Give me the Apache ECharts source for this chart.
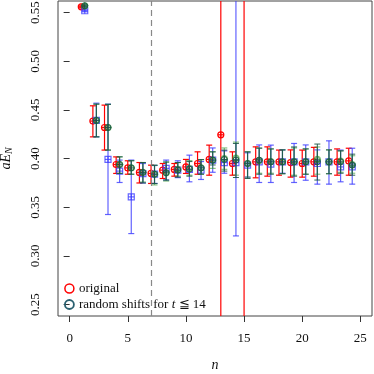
<!DOCTYPE html>
<html>
<head>
<meta charset="utf-8">
<script src="https://cdn.jsdelivr.net/npm/echarts@6/dist/echarts.min.js"></script>
<style>
html, body { margin: 0; padding: 0; background: #fff; }
#main { width: 374px; height: 374px; }
</style>
</head>
<body>
<div id="main"></div>
<script>
// n values and per-series [center, low, high]
var nVals = [1, 2, 3, 4, 5, 6, 7, 8, 9, 10, 11, 12, 13, 14, 15, 16, 17, 18, 19, 20, 21, 22, 23, 24];

var origC = [0.556, 0.4386, 0.432, 0.394, 0.3905, 0.3858, 0.3848, 0.3882, 0.3889, 0.3915, 0.395, 0.3992, 0.4245, 0.395, 0.62, 0.3967, 0.3967, 0.3967, 0.396, 0.395, 0.3967, null, 0.3967, 0.3977];
var origLo = [0.555, 0.4224, 0.4088, 0.3848, 0.384, 0.375, 0.3745, 0.3796, 0.382, 0.3848, 0.384, 0.383, 0.10, 0.383, 0.10, 0.3803, 0.382, 0.383, 0.381, 0.381, 0.382, null, 0.383, 0.383];
var origHi = [0.557, 0.4543, 0.455, 0.4018, 0.3978, 0.396, 0.3933, 0.395, 0.395, 0.3992, 0.407, 0.4139, 0.80, 0.407, 0.90, 0.4121, 0.4121, 0.4088, 0.409, 0.4088, 0.4116, null, 0.410, 0.4107];

var blueC = [0.552, 0.4393, 0.3992, 0.3872, 0.3607, 0.3847, 0.384, 0.39, 0.3882, 0.389, 0.3882, 0.3985, 0.396, 0.396, 0.3933, 0.3967, 0.3944, 0.3967, 0.3967, 0.3967, 0.395, 0.3967, 0.3915, 0.3915];
var blueLo = [0.551, 0.4224, 0.3426, 0.3755, 0.323, 0.375, 0.3745, 0.378, 0.3805, 0.3762, 0.3786, 0.386, 0.385, 0.3206, 0.381, 0.3755, 0.3755, 0.385, 0.3755, 0.3778, 0.3738, 0.3738, 0.3762, 0.3738];
var blueHi = [0.553, 0.457, 0.456, 0.3985, 0.3985, 0.395, 0.393, 0.3985, 0.3978, 0.4036, 0.397, 0.411, 0.408, 0.70, 0.406, 0.4141, 0.4139, 0.409, 0.4156, 0.4141, 0.409, 0.4183, 0.4088, 0.4107];

var greenC = [0.557, 0.4393, 0.432, 0.394, 0.3905, 0.386, 0.384, 0.3855, 0.389, 0.390, 0.3905, 0.3985, 0.400, 0.4005, 0.395, 0.398, 0.397, 0.3967, 0.397, 0.397, 0.3992, 0.3967, 0.3975, 0.394];
var greenLo = [0.556, 0.4224, 0.4088, 0.385, 0.384, 0.376, 0.373, 0.377, 0.382, 0.383, 0.384, 0.390, 0.389, 0.383, 0.381, 0.385, 0.385, 0.3845, 0.383, 0.384, 0.384, 0.3845, 0.386, 0.385];
var greenHi = [0.558, 0.456, 0.4558, 0.402, 0.398, 0.396, 0.393, 0.3965, 0.396, 0.398, 0.399, 0.407, 0.411, 0.417, 0.407, 0.411, 0.410, 0.409, 0.411, 0.410, 0.412, 0.409, 0.408, 0.403];

var shiftC = [0.557, 0.4393, 0.432, 0.394, 0.3905, 0.3858, 0.384, 0.3855, 0.3882, 0.3892, 0.3905, 0.3985, 0.3992, 0.3985, 0.395, 0.3985, 0.3967, 0.3967, 0.3967, 0.3967, 0.3967, 0.3967, 0.3967, 0.3933];
var shiftLo = [0.556, 0.4224, 0.4088, 0.3848, 0.384, 0.375, 0.3745, 0.378, 0.381, 0.382, 0.384, 0.3935, 0.3872, 0.3806, 0.3796, 0.384, 0.384, 0.3845, 0.382, 0.384, 0.378, 0.3845, 0.385, 0.383];
var shiftHi = [0.558, 0.456, 0.4558, 0.4018, 0.3978, 0.396, 0.3933, 0.3965, 0.396, 0.397, 0.399, 0.407, 0.4088, 0.4156, 0.407, 0.4107, 0.410, 0.409, 0.412, 0.410, 0.415, 0.409, 0.408, 0.4046];

var xTicks = [0, 5, 10, 15, 20, 25];
var yTicks = [0.25, 0.30, 0.35, 0.40, 0.45, 0.50, 0.55];
var cutN = 7;

var serifFont = '"Liberation Serif", "DejaVu Serif", serif';

function rows(c, lo, hi, dx) {
    var out = [];
    for (var i = 0; i < nVals.length; i++) {
        if (c[i] == null) continue;
        out.push([nVals[i] + dx, c[i], lo[i], hi[i]]);
    }
    return out;
}

function clampY(y, cs) {
    return Math.max(cs.y, Math.min(cs.y + cs.height, y));
}

function errRender(color, mark, width) {
    return function (params, api) {
        var cs = params.coordSys;
        var p = api.coord([api.value(0), api.value(1)]);
        var lo = api.coord([api.value(0), api.value(2)]);
        var hi = api.coord([api.value(0), api.value(3)]);
        var x = p[0];
        var y1 = clampY(lo[1], cs), y2 = clampY(hi[1], cs);
        var st = { stroke: color, lineWidth: width, fill: null };
        var kids = [
            { type: 'line', shape: { x1: x, y1: y1, x2: x, y2: y2 }, style: st }
        ];
        if (lo[1] <= cs.y + cs.height) {
            kids.push({ type: 'line', shape: { x1: x - 3, y1: lo[1], x2: x + 3, y2: lo[1] }, style: st });
        }
        if (hi[1] >= cs.y) {
            kids.push({ type: 'line', shape: { x1: x - 3, y1: hi[1], x2: x + 3, y2: hi[1] }, style: st });
        }
        var y = p[1];
        if (y >= cs.y && y <= cs.y + cs.height) {
            var r = 3;
            if (mark === 'square') {
                kids.push({ type: 'rect', shape: { x: x - r, y: y - r, width: 2 * r, height: 2 * r }, style: st });
                kids.push({ type: 'line', shape: { x1: x - r, y1: y, x2: x + r, y2: y }, style: st });
                kids.push({ type: 'line', shape: { x1: x, y1: y - r, x2: x, y2: y + r }, style: st });
            } else if (mark === 'diamond') {
                kids.push({ type: 'circle', shape: { cx: x, cy: y, r: r }, style: st });
                kids.push({ type: 'polygon', shape: { points: [[x - r, y], [x, y - r], [x + r, y], [x, y + r]] }, style: st });
            } else {
                kids.push({ type: 'circle', shape: { cx: x, cy: y, r: r }, style: st });
                kids.push({ type: 'line', shape: { x1: x - r, y1: y, x2: x + r, y2: y }, style: st });
                kids.push({ type: 'line', shape: { x1: x, y1: y - r, x2: x, y2: y + r }, style: st });
            }
        }
        return { type: 'group', children: kids };
    };
}

var redCol = '#ff0000';
var blueCol = 'rgba(60,60,255,0.8)';
var greenCol = 'rgba(50,150,50,0.6)';
var tealCol = 'rgba(25,85,70,0.9)';
var shiftName = 'random shifts for t \u2266 14';

var myChart = echarts.init(document.getElementById('main'));

var option = {
    animation: false,
    grid: {
        left: 58, right: 2, top: 1, bottom: 58,
        outerBoundsMode: 'none', containLabel: false,
        show: true, borderColor: '#444', borderWidth: 1, backgroundColor: 'transparent'
    },
    xAxis: {
        type: 'value', min: -1, max: 26,
        splitLine: { show: false },
        axisLine: { show: false },
        axisTick: { show: true, inside: false, length: 6, customValues: xTicks, lineStyle: { color: '#333' } },
        axisLabel: { customValues: xTicks, margin: 16, color: '#111', fontFamily: serifFont, fontSize: 13 },
        name: 'n', nameLocation: 'middle', nameGap: 42,
        nameTextStyle: { fontFamily: serifFont, fontSize: 14, fontStyle: 'italic', color: '#111' }
    },
    yAxis: {
        type: 'value', min: 0.2383, max: 0.562,
        splitLine: { show: false },
        axisLine: { show: false },
        axisTick: { show: true, inside: false, length: 6, customValues: yTicks, lineStyle: { color: '#333' } },
        axisLabel: {
            customValues: yTicks, rotate: 90, margin: 16, color: '#111',
            fontFamily: serifFont, fontSize: 13,
            formatter: function (v) { return v.toFixed(2); }
        },
        name: '{i|aE}{s|N}', nameLocation: 'middle', nameGap: 44, nameRotate: 90,
        nameTextStyle: {
            rich: {
                i: { fontFamily: serifFont, fontSize: 14, fontStyle: 'italic', color: '#111' },
                s: { fontFamily: serifFont, fontSize: 10, fontStyle: 'italic', color: '#111', verticalAlign: 'bottom', padding: [6, 0, 0, 0] }
            }
        }
    },
    legend: {
        left: 64, top: 282, padding: 0, orient: 'vertical', itemGap: 3,
        itemWidth: 9, itemHeight: 9, selectedMode: false,
        textStyle: {
            fontFamily: serifFont, fontSize: 13, color: '#111',
            rich: {
                r: { fontFamily: serifFont, fontSize: 13, color: '#111' },
                t: { fontFamily: serifFont, fontSize: 13, color: '#111', fontStyle: 'italic' }
            }
        },
        formatter: function (name) {
            if (name === shiftName) return '{r|random shifts for }{t|t}{r| \u2266 14}';
            return '{r|' + name + '}';
        },
        data: [
            { name: 'original', icon: 'circle', itemStyle: { color: 'transparent', borderColor: redCol, borderWidth: 1.5 } },
            { name: shiftName, icon: 'circle', itemStyle: { color: 'transparent', borderColor: '#2a6070', borderWidth: 1.8 } }
        ]
    },
    series: [
        {
            name: 'original', type: 'custom', renderItem: errRender(redCol, 'circle', 1.2),
            data: rows(origC, origLo, origHi, 0), itemStyle: { color: redCol },
            encode: { x: 0, y: [1, 2, 3] }, z: 2,
            markLine: {
                silent: true, symbol: 'none', label: { show: false },
                lineStyle: { color: '#888', type: [6, 4], width: 1.2 },
                data: [{ xAxis: cutN }]
            }
        },
        {
            name: 'blue', type: 'custom', renderItem: errRender(blueCol, 'square', 1.2),
            data: rows(blueC, blueLo, blueHi, 0.3), itemStyle: { color: blueCol },
            encode: { x: 0, y: [1, 2, 3] }, z: 3
        },
        {
            name: 'green', type: 'custom', renderItem: errRender(greenCol, 'diamond', 1.2),
            data: rows(greenC, greenLo, greenHi, 0.3), itemStyle: { color: greenCol },
            encode: { x: 0, y: [1, 2, 3] }, z: 4
        },
        {
            name: shiftName, type: 'custom', renderItem: errRender(tealCol, 'circle', 1.0),
            data: rows(shiftC, shiftLo, shiftHi, 0.3), itemStyle: { color: tealCol },
            encode: { x: 0, y: [1, 2, 3] }, z: 5
        }
    ]
};

myChart.setOption(option);
</script>
</body>
</html>
